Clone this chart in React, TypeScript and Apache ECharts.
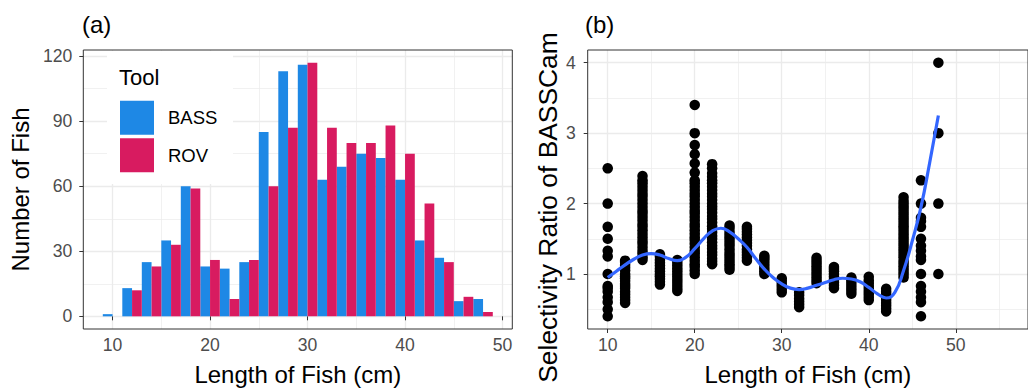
import React, { useEffect, useRef } from "react";
import * as echarts from "echarts";

// ---------- Panel (a): histogram of fish length by tool ----------
const lengthBins = [10, 12, 14, 16, 18, 20, 22, 24, 26, 28, 30, 32, 34, 36, 38, 40, 42, 44, 46, 48];
const bassCounts = [1, 13, 25, 35, 60, 23, 22, 25, 85, 113, 116, 63, 69, 75, 73, 63, 35, 27, 7, 8];
const rovCounts = [0, 12, 23, 33, 59, 26, 8, 26, 60, 87, 117, 87, 80, 80, 88, 75, 52, 25, 9, 2];
const histXTicks = [10, 20, 30, 40, 50];
const histYTicks = [0, 30, 60, 90, 120];

// ---------- Panel (b): selectivity ratio ----------
const ratioLengths = [10, 12, 14, 16, 18, 20, 22, 24, 26, 28, 30, 32, 34, 36, 38, 40, 42, 44, 46, 48];
const ratioValues: number[][] = [
  [0.4, 0.5, 0.6, 0.67, 0.75, 0.8, 0.83, 1, 1.25, 1.33, 1.5, 1.67, 2, 2.5],
  [0.59, 0.63, 0.67, 0.71, 0.75, 0.8, 0.83, 0.86, 0.9, 0.94, 0.97, 1, 1.05, 1.09, 1.13, 1.17, 1.19],
  [1.2, 1.24, 1.29, 1.33, 1.38, 1.43, 1.47, 1.52, 1.57, 1.62, 1.67, 1.71, 1.76, 1.81, 1.86, 1.9, 1.95, 2, 2.05, 2.1, 2.14, 2.19, 2.24, 2.29, 2.33, 2.39],
  [0.85, 0.89, 0.93, 0.97, 1, 1.04, 1.08, 1.12, 1.16, 1.2, 1.25, 1.28],
  [0.76, 0.8, 0.84, 0.88, 0.92, 0.96, 1, 1.04, 1.08, 1.12, 1.16, 1.2],
  [1, 1.05, 1.1, 1.14, 1.19, 1.24, 1.29, 1.33, 1.38, 1.43, 1.48, 1.52, 1.57, 1.62, 1.67, 1.71, 1.76, 1.81, 1.86, 1.9, 1.95, 2, 2.05, 2.1, 2.14, 2.19, 2.24, 2.29, 2.33, 2.44, 2.57, 2.7, 2.83, 3, 3.4],
  [1.14, 1.18, 1.22, 1.27, 1.31, 1.36, 1.4, 1.45, 1.5, 1.54, 1.59, 1.64, 1.68, 1.73, 1.78, 1.82, 1.87, 1.92, 1.96, 2, 2.05, 2.1, 2.14, 2.19, 2.24, 2.29, 2.33, 2.38, 2.43, 2.5, 2.56],
  [1.06, 1.1, 1.14, 1.18, 1.22, 1.26, 1.3, 1.35, 1.4, 1.44, 1.48, 1.52, 1.56, 1.6, 1.65, 1.69],
  [1.19, 1.23, 1.27, 1.31, 1.35, 1.4, 1.44, 1.48, 1.52, 1.56, 1.6, 1.64, 1.67],
  [1, 1.04, 1.08, 1.12, 1.16, 1.2, 1.23, 1.26],
  [0.74, 0.78, 0.82, 0.86, 0.9, 0.94],
  [0.53, 0.57, 0.61, 0.65, 0.7, 0.74],
  [0.87, 0.91, 0.95, 0.99, 1.03, 1.07, 1.11, 1.15, 1.19, 1.23],
  [0.8, 0.84, 0.88, 0.92, 0.96, 1, 1.04, 1.07, 1.1],
  [0.72, 0.76, 0.8, 0.84, 0.88, 0.92, 0.95],
  [0.63, 0.67, 0.71, 0.75, 0.79, 0.83, 0.87, 0.91, 0.96],
  [0.47, 0.51, 0.55, 0.59, 0.63, 0.67, 0.71, 0.75, 0.79],
  [0.95, 0.99, 1.03, 1.07, 1.11, 1.15, 1.19, 1.24, 1.28, 1.32, 1.36, 1.4, 1.44, 1.48, 1.52, 1.56, 1.6, 1.64, 1.68, 1.72, 1.76, 1.8, 1.84, 1.88, 1.92, 1.96, 2, 2.04, 2.09],
  [0.4, 0.6, 0.67, 0.75, 0.83, 1, 1.2, 1.25, 1.33, 1.4, 1.5, 1.67, 1.75, 1.8, 2, 2.33],
  [1, 2, 3, 4],
];
const smoothX = [10, 11, 12, 13, 14, 15, 16, 17, 18, 19, 20, 21, 22, 23, 24, 25, 26, 27, 28, 29, 30, 31, 32, 33, 34, 35, 36, 37, 38, 39, 40, 41, 42, 43, 44, 45, 46, 47, 48];
const smoothY = [0.95, 1.04, 1.13, 1.21, 1.27, 1.29, 1.27, 1.22, 1.19, 1.24, 1.36, 1.5, 1.61, 1.65, 1.6, 1.5, 1.38, 1.22, 1.07, 0.95, 0.86, 0.8, 0.78, 0.8, 0.84, 0.88, 0.92, 0.94, 0.93, 0.89, 0.81, 0.72, 0.66, 0.74, 1.05, 1.47, 1.95, 2.58, 3.25];
const ratioXTicks = [10, 20, 30, 40, 50];
const ratioYTicks = [1, 2, 3, 4];

const FONT = "'Liberation Sans', Arial, Helvetica, sans-serif";
const TICK_COLOR = "#4D4D4D";
const GRID_MAJOR = { color: "#EBEBEB", width: 1.3 };
const GRID_MINOR = { color: "#EBEBEB", width: 0.7 };

function axisCommon(ticks: number[], margin: number) {
  return {
    type: "value" as const,
    splitNumber: 5,
    axisLine: { show: false },
    axisTick: { show: true, length: 4, customValues: ticks, lineStyle: { color: "#333333", width: 1 } },
    axisLabel: { customValues: ticks, color: TICK_COLOR, fontSize: 17.6, fontFamily: FONT, margin },
    splitLine: { show: true, lineStyle: GRID_MAJOR },
    minorTick: { show: false, splitNumber: 2 },
    minorSplitLine: { show: true, lineStyle: GRID_MINOR },
    nameLocation: "middle" as const,
    nameTextStyle: { color: "#000", fontSize: 24, fontFamily: FONT },
  };
}

export default function App() {
  const ref = useRef<HTMLDivElement>(null);
  useEffect(() => {
    if (!ref.current) return;
    const chart = echarts.init(ref.current, undefined, { renderer: "svg" });

    const scatterData: number[][] = [];
    ratioLengths.forEach((x, i) => ratioValues[i].forEach((y) => scatterData.push([x, y])));

    chart.setOption({
      animation: false,
      backgroundColor: "#fff",
      textStyle: { fontFamily: FONT },
      grid: [
        { left: 83.3, top: 50, width: 429, height: 280, show: true, borderColor: "#333333", borderWidth: 1, backgroundColor: "transparent", z: 10 },
        { left: 587.7, top: 50, width: 451, height: 280, show: true, borderColor: "#333333", borderWidth: 1, backgroundColor: "transparent", z: 10 },
      ],
      xAxis: [
        { ...axisCommon(histXTicks, 7), gridIndex: 0, min: 7, max: 51, name: "Length of Fish (cm)", nameGap: 33 },
        { ...axisCommon(ratioXTicks, 7), gridIndex: 1, min: 7.7, max: 58.3, name: "Length of Fish (cm)", nameGap: 33 },
      ],
      yAxis: [
        { ...axisCommon(histYTicks, 11), gridIndex: 0, min: -5.85, max: 122.85, name: "Number of Fish", nameGap: 51 },
        {
          ...axisCommon(ratioYTicks, 12),
          gridIndex: 1,
          min: 0.22,
          max: 4.18,
          name: "Selectivity Ratio of BASSCam",
          nameGap: 27,
          nameTextStyle: { color: "#000", fontSize: 26.4, fontFamily: FONT, padding: [0, 36, 0, 0] },
        },
      ],
      legend: {
        data: ["BASS", "ROV"],
        orient: "vertical",
        left: 120,
        top: 100.7,
        itemWidth: 34,
        itemHeight: 34,
        itemGap: 3.5,
        icon: "rect",
        padding: 0,
        selectedMode: false,
        z: 20,
        textStyle: { fontSize: 18.5, color: "#000", fontFamily: FONT, padding: [0, 0, 0, 9] },
      },
      graphic: [
        { type: "rect", z: 15, silent: true, shape: { x: 107, y: 51, width: 126, height: 133 }, style: { fill: "#fff" } },
        { type: "text", z: 20, x: 119, y: 77, style: { text: "Tool", fontSize: 22, fontFamily: FONT, fill: "#000", verticalAlign: "middle" } },
        { type: "text", z: 20, x: 82, y: 24, style: { text: "(a)", fontSize: 24, fontFamily: FONT, fill: "#000", verticalAlign: "middle" } },
        { type: "text", z: 20, x: 585, y: 24, style: { text: "(b)", fontSize: 24, fontFamily: FONT, fill: "#000", verticalAlign: "middle" } },
      ],
      series: [
        {
          name: "BASS",
          type: "bar",
          xAxisIndex: 0,
          yAxisIndex: 0,
          barWidth: 9.75,
          barGap: "0%",
          itemStyle: { color: "#1E88E5" },
          data: lengthBins.map((x, i) => [x, bassCounts[i]]),
        },
        {
          name: "ROV",
          type: "bar",
          xAxisIndex: 0,
          yAxisIndex: 0,
          barWidth: 9.75,
          barGap: "0%",
          itemStyle: { color: "#D81B60" },
          data: lengthBins.map((x, i) => [x, rovCounts[i]]),
        },
        {
          name: "Selectivity",
          type: "scatter",
          xAxisIndex: 1,
          yAxisIndex: 1,
          symbol: "circle",
          symbolSize: 10.5,
          itemStyle: { color: "#000", opacity: 1 },
          z: 3,
          data: scatterData,
        },
        {
          name: "Smooth",
          type: "line",
          xAxisIndex: 1,
          yAxisIndex: 1,
          smooth: 0.5,
          showSymbol: false,
          symbol: "none",
          lineStyle: { color: "#3366FF", width: 3.2 },
          z: 4,
          data: smoothX.map((x, i) => [x, smoothY[i]]),
        },
      ],
    });
    return () => chart.dispose();
  }, []);
  return (
    <div
      ref={ref}
      style={{ position: "fixed", left: 0, top: 0, width: 1028, height: 391, background: "#fff" }}
    />
  );
}
